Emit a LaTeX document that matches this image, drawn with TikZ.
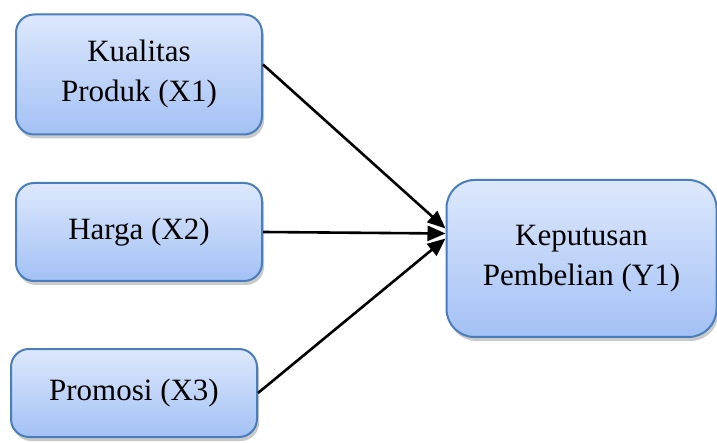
\documentclass[tikz,border=0pt]{standalone}
\usepackage{fontspec}
\setmainfont{Liberation Serif}
\usetikzlibrary{arrows.meta,shadows}
\definecolor{boxline}{HTML}{4A7EBB}
\definecolor{boxtop}{HTML}{DDE8FC}
\definecolor{boxbot}{HTML}{A3C1F5}
\tikzset{
  varbox/.style={rectangle, rounded corners=18pt, draw=boxline, line width=2pt,
    top color=boxtop, bottom color=boxbot, inner sep=0pt, align=center,
    font=\fontsize{31}{40}\selectfont, text=black,
    drop shadow={shadow xshift=2pt, shadow yshift=-4pt, opacity=0.35, fill=black!60}},
  arr/.style={line width=2.6pt, -{Triangle[length=18pt,width=15pt]}}
}
\begin{document}
\begin{tikzpicture}[x=1pt,y=-1pt]
\useasboundingbox (0,0) rectangle (717,443);
\node[varbox, minimum width=246pt, minimum height=120pt] (b1) at (139,74.5) {Kualitas\\Produk (X1)};
\node[varbox, minimum width=246pt, minimum height=98pt] (b2) at (139,232) {Harga (X2)};
\node[varbox, minimum width=246pt, minimum height=88pt] (b3) at (134,393) {Promosi (X3)};
\node[varbox, rounded corners=28pt, minimum width=270pt, minimum height=157pt] (b4) at (581.5,258.5) {Keputusan\\Pembelian (Y1)};
\draw[arr] ([yshift=10pt]b1.east) -- ([yshift=30pt]b4.west);
\draw[arr] (b2.east) -- ([yshift=25pt]b4.west);
\draw[arr] (b3.east) -- ([yshift=20pt]b4.west);
\end{tikzpicture}
\end{document}
